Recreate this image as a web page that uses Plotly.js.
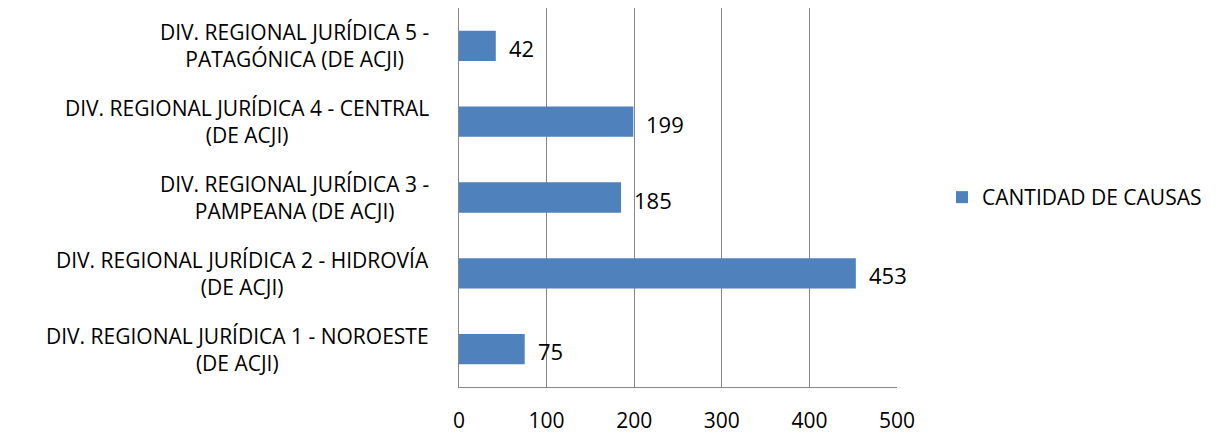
<!DOCTYPE html>
<html>
<head>
<meta charset="utf-8">
<script src="https://cdn.plot.ly/plotly-3.0.1.min.js"></script>
<style>html,body{margin:0;padding:0;background:#fff;}#chart{width:1224px;height:434px;}</style>
</head>
<body>
<div id="chart"></div>
<script>
var categories = [
  "DIV. REGIONAL JURÍDICA 1 - NOROESTE<br>(DE ACJI)",
  "DIV. REGIONAL JURÍDICA 2 - HIDROVÍA<br>(DE ACJI)",
  "DIV. REGIONAL JURÍDICA 3 -<br>PAMPEANA (DE ACJI)",
  "DIV. REGIONAL JURÍDICA 4 - CENTRAL<br>(DE ACJI)",
  "DIV. REGIONAL JURÍDICA 5 -<br>PATAGÓNICA (DE ACJI)"
];
var values = [75, 453, 185, 199, 42];
var seriesName = "CANTIDAD DE CAUSAS";
var xTicks = [0, 100, 200, 300, 400, 500];

var FONT = "'Open Sans', Lato, sans-serif";
var annotations = [];
categories.forEach(function(c, i){
  annotations.push({
    xref: 'paper', yref: 'y', x: 0, y: c, xanchor: 'right', yanchor: 'middle',
    xshift: -28, text: c, align: 'center', showarrow: false,
    font: {family: FONT, size: 21, color: '#000'}
  });
  annotations.push({
    xref: 'x', yref: 'y', x: values[i], y: c, xanchor: 'left', yanchor: 'middle',
    xshift: 11, yshift: -2, text: String(values[i]), showarrow: false,
    font: {family: FONT, size: 22, color: '#000'}
  });
});

var trace = {
  type: 'bar', orientation: 'h', x: values, y: categories, name: seriesName,
  marker: {color: '#4F81BD'}, hoverinfo: 'none'
};

var layout = {
  width: 1224, height: 434,
  margin: {l: 459, r: 327, t: 8, b: 47},
  paper_bgcolor: '#fff', plot_bgcolor: '#fff',
  bargap: 0.6,
  font: {family: FONT, size: 20, color: '#000'},
  xaxis: {
    range: [0, 500], tickvals: xTicks, ticktext: xTicks.map(String),
    showgrid: true, gridcolor: '#868686', gridwidth: 1.3,
    showline: true, linecolor: '#868686', linewidth: 1.3,
    zeroline: false, ticks: '', ticklabelstandoff: 14,
    tickfont: {family: FONT, size: 21, color: '#000'}, fixedrange: true
  },
  yaxis: {
    type: 'category', showticklabels: false, showgrid: false,
    showline: true, linecolor: '#868686', linewidth: 1.3, zeroline: false, ticks: '',
    fixedrange: true
  },
  showlegend: true,
  legend: {
    xref: 'paper', y: 0.5, yanchor: 'middle', xanchor: 'left',
    font: {family: FONT, size: 21, color: '#000'}, itemwidth: 30, bgcolor: 'rgba(0,0,0,0)'
  },
  annotations: annotations
};
layout.legend.x = (942 - 459) / (897 - 459);

Plotly.newPlot('chart', [trace], layout, {displayModeBar: false, staticPlot: true});
</script>
</body>
</html>
